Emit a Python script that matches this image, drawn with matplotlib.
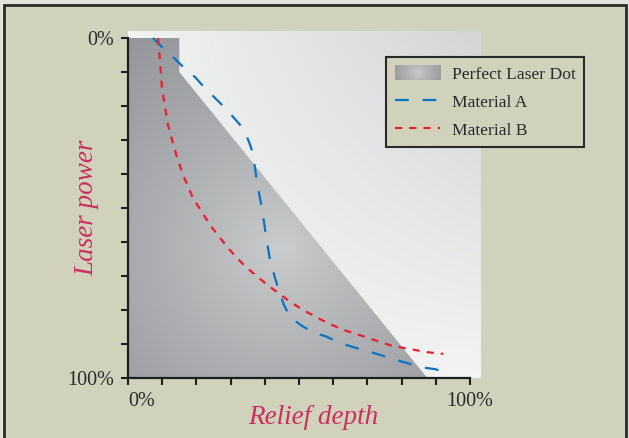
import numpy as np
import matplotlib
matplotlib.use('Agg')
from matplotlib import pyplot as plt
from matplotlib.patches import Polygon, Rectangle
from matplotlib.legend_handler import HandlerBase
from matplotlib.image import BboxImage
from matplotlib.transforms import Bbox, TransformedBbox

# outline of the perfect laser dot (relief depth %, laser power %)
dot_depth = [0, 15, 15, 87.5, 0]
dot_power = [0, 0, 10, 100, 100]

# material A (blue)
a_depth = [7.3, 10.2, 13.5, 16.1, 19.6, 22.2, 25.4, 28.1, 30.7, 33.6, 35.4, 36.5,
           37.7, 39.2, 40.4, 41.5, 43.0, 44.2, 45.6, 47.4, 50.9, 54.1, 58.2, 62.0,
           65.8, 69.9, 73.7, 77.5, 81.6, 85.4, 89.8, 93.3]
a_power = [0, 2.9, 5.9, 8.5, 11.5, 14.4, 17.6, 20.3, 23.2, 26.5, 30.6, 33.8,
           42.4, 50.3, 58.5, 65.3, 70.6, 74.7, 78.5, 82.1, 84.7, 86.5, 87.9, 89.7,
           90.9, 92.1, 93.2, 94.4, 95.6, 96.8, 97.4, 98.5]

# material B (red)
b_depth = [8.8, 9.4, 9.9, 10.8, 11.7, 12.9, 14.3, 16.1, 19.0, 21.6, 24.0, 26.9,
           29.8, 33.3, 36.5, 40.1, 43.9, 47.4, 51.2, 55.6, 59.6, 64.0, 68.4, 72.8,
           77.5, 82.5, 87.4, 92.1]
b_power = [0, 7.4, 14.4, 20.3, 25.6, 30.0, 35.0, 40.3, 47.1, 51.2, 55.0, 58.8,
           62.4, 66.2, 69.1, 72.1, 75.0, 77.6, 80.0, 82.4, 84.4, 86.2, 87.6, 89.1,
           90.6, 91.5, 92.4, 92.9]

ticks = list(range(0, 101, 10))
tick_labels = ['0%'] + [''] * 9 + ['100%']

W, H = 629, 438
XMAX, YTOP = 103.2, -2.06
serif = 'Liberation Serif'
pink = '#cc2f5e'


def radial(nx, ny, cx, cy, sx, sy, R, light, dark, xr, yr):
    xs = np.linspace(xr[0], xr[1], nx)
    ys = np.linspace(yr[0], yr[1], ny)
    X, Y = np.meshgrid(xs, ys)
    r = np.sqrt(((X - cx) * sx) ** 2 + ((Y - cy) * sy) ** 2) / R
    t = np.clip(r, 0, 1) ** 0.8
    light = np.array(light)
    dark = np.array(dark)
    return light + (dark - light) * t[..., None]


class GradientHandler(HandlerBase):
    def create_artists(self, legend, orig_handle, xdescent, ydescent,
                       width, height, fontsize, trans):
        box = TransformedBbox(Bbox.from_bounds(-xdescent, -ydescent, width, height), trans)
        img = BboxImage(box, interpolation='bilinear')
        img.set_data(radial(60, 20, 0.5, 0.5, 1.0, 0.35, 0.5,
                            (0.80, 0.80, 0.81), (0.62, 0.62, 0.63), (0, 1), (0, 1)))
        return [img]


fig = plt.figure(figsize=(W / 100, H / 100), dpi=100, facecolor='#e2e2da')
fig.add_artist(Rectangle((4 / W, -0.05), 622 / W, (H - 5) / H + 0.05,
                         transform=fig.transFigure, facecolor='#d0d2bc',
                         edgecolor='#2a2a2a', linewidth=2, zorder=0))

ax = fig.add_axes([128 / W, 1 - 378 / H, 353 / W, 347 / H])
ax.set_facecolor('none')

# light background gradient (grey towards top right)
u = np.linspace(0, 1, 300)
v = np.linspace(1, 0, 300)
U, V = np.meshgrid(u, v)
t = (U * V) ** 0.9
white = np.array([0.955, 0.957, 0.955])
grey = np.array([0.83, 0.835, 0.845])
bg = white + (grey - white) * t[..., None]
ax.imshow(bg, extent=[0, XMAX, 100, YTOP], aspect='auto', zorder=0)

# perfect laser dot: radial grey gradient clipped to its outline
dot = Polygon(np.column_stack([dot_depth, dot_power]), closed=True,
              facecolor='none', edgecolor='none')
ax.add_patch(dot)
dot_img = radial(300, 300, 45, 62, 3.42, 3.40, 250,
                 (0.80, 0.805, 0.81), (0.59, 0.595, 0.61), (0, XMAX), (YTOP, 100))
im = ax.imshow(dot_img, extent=[0, XMAX, 100, YTOP], aspect='auto', zorder=1)
im.set_clip_path(dot)

line_a, = ax.plot(a_depth, a_power, color='#0a74c4', lw=1.6, zorder=3,
                  dashes=(6.2, 6.2), label='Material A')
line_b, = ax.plot(b_depth, b_power, color='#ec1f2c', lw=1.6, zorder=3,
                  dashes=(3.2, 3.2), label='Material B')

ax.set_xlim(0, XMAX)
ax.set_ylim(100, YTOP)

for s in ['top', 'right']:
    ax.spines[s].set_visible(False)
for s in ['left', 'bottom']:
    ax.spines[s].set_color('#1e1e1e')
    ax.spines[s].set_linewidth(1.6)
    ax.spines[s].set_bounds(0, 100)

ax.set_xticks(ticks)
ax.set_yticks(ticks)
ax.set_xticklabels(tick_labels, fontsize=14.5, family=serif, color='#2a2a2a')
ax.set_yticklabels(tick_labels, fontsize=14.5, family=serif, color='#2a2a2a')
ax.tick_params(direction='out', length=5, width=1.5, color='#1e1e1e', pad=5)
ax.get_xticklabels()[0].set_ha('left')

ax.text(0.524, -0.115, 'Relief depth', transform=ax.transAxes, ha='center', va='center',
        fontsize=19.5, style='italic', family=serif, color=pink)
ax.text(-0.116, 0.49, 'Laser power', transform=ax.transAxes, ha='center', va='center',
        rotation=90, fontsize=19.5, style='italic', family=serif, color=pink)

proxy = Rectangle((0, 0), 1, 1, label='Perfect Laser Dot')
leg = ax.legend([proxy, line_a, line_b], ['Perfect Laser Dot', 'Material A', 'Material B'],
                handler_map={proxy: GradientHandler()},
                loc='upper left', bbox_to_anchor=(386 / W, 1 - 57 / H),
                bbox_transform=fig.transFigure, borderaxespad=0,
                prop={'family': serif, 'size': 12.6}, fancybox=False,
                frameon=True, handlelength=2.6, handleheight=0.9,
                handletextpad=0.65, labelspacing=0.6, borderpad=0.5)
leg.get_frame().set_facecolor('#d0d2bc')
leg.get_frame().set_edgecolor('#2a2a2a')
leg.get_frame().set_linewidth(1.5)
leg.get_frame().set_alpha(1)
leg.set_zorder(5)
for txt in leg.get_texts():
    txt.set_color('#2a2a2a')

fig.savefig('out.png', dpi=100, facecolor=fig.get_facecolor())
